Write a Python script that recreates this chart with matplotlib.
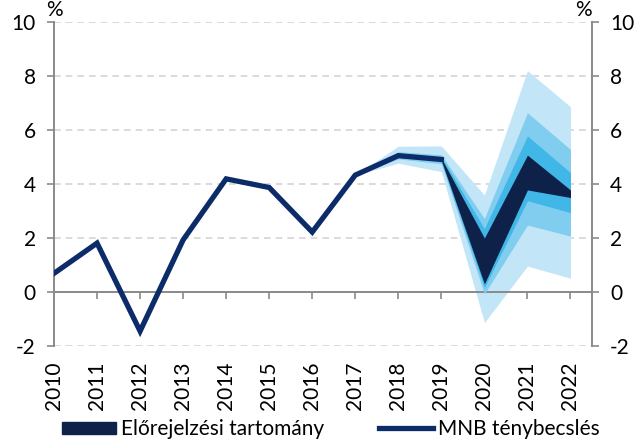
import numpy as np
import matplotlib.pyplot as plt
from matplotlib.patches import Patch
from matplotlib.lines import Line2D

plt.rcParams['font.family'] = ['Lato', 'DejaVu Sans']
plt.rcParams['axes.unicode_minus'] = False

# --- data ---
years = ['2010', '2011', '2012', '2013', '2014', '2015', '2016',
         '2017', '2018', '2019', '2020', '2021', '2022']
actual = [0.69, 1.81, -1.45, 1.93, 4.19, 3.87, 2.22, 4.33, 5.05, 4.91]

# fan bands, 2017-2022
fan_years = ['2017', '2018', '2019', '2020', '2021', '2022']
light_lo = [4.33, 4.77, 4.46, -1.13, 0.96, 0.51]
light_hi = [4.33, 5.40, 5.41, 3.59, 8.20, 6.86]
mid_lo = [4.33, 4.93, 4.75, -0.07, 2.48, 2.07]
mid_hi = [4.33, 5.20, 5.08, 2.72, 6.64, 5.28]
bright_lo = [4.33, 4.98, 4.82, 0.17, 3.38, 2.94]
bright_hi = [4.33, 5.14, 5.00, 2.35, 5.78, 4.42]
dark_lo = [4.33, 5.02, 4.87, 0.30, 3.78, 3.50]
dark_hi = [4.33, 5.10, 4.95, 2.00, 5.07, 3.78]

yticks = [-2, 0, 2, 4, 6, 8, 10]

# colours
c_light = '#c2e6f7'
c_mid = '#80cdef'
c_bright = '#40b7e7'
c_dark = '#0e2149'
c_line = '#0c2b69'
c_axis = '#8a8a8a'
c_grid = '#d4d4d4'

fs = 15

x_all = np.arange(len(years))
x_act = x_all[:len(actual)]
x_fan = np.array([years.index(y) for y in fan_years])

fig = plt.figure(figsize=(6.41, 4.41), dpi=100)
ax = fig.add_axes([54 / 641, 95 / 441, 538 / 641, 324 / 441])

ax.fill_between(x_fan, light_lo, light_hi, color=c_light, lw=0, zorder=2)
ax.fill_between(x_fan, mid_lo, mid_hi, color=c_mid, lw=0, zorder=3)
ax.fill_between(x_fan, bright_lo, bright_hi, color=c_bright, lw=0, zorder=4)
ax.fill_between(x_fan, dark_lo, dark_hi, color=c_dark, lw=0, zorder=5)
ax.plot(x_act, actual, color=c_line, lw=3.8, solid_joinstyle='miter', zorder=6)

ax.set_xlim(0, len(years) - 0.5)
ax.set_ylim(-2, 10)

# y axis both sides
ax.set_yticks(yticks)
ax.yaxis.set_ticks_position('both')
ax.tick_params(axis='y', which='both', direction='out', length=5, width=1.2,
               color=c_axis, labelsize=fs, pad=8, labelright=True)
ax.yaxis.grid(True, color=c_grid, ls=(0, (4, 3)), lw=1.2)
ax.set_axisbelow(True)

# x axis line at zero
ax.spines['bottom'].set_position(('data', 0))
ax.spines['top'].set_visible(False)
for s in ['left', 'right', 'bottom']:
    ax.spines[s].set_color(c_axis)
    ax.spines[s].set_linewidth(1.4)
ax.set_xticks(x_all[1:])
ax.tick_params(axis='x', direction='out', length=5, width=1.2, color=c_axis,
               labelbottom=False)

# year labels at the bottom
sec = ax.secondary_xaxis('bottom')
sec.set_xticks(x_all, labels=years, rotation=90)
sec.tick_params(length=0, labelsize=fs, pad=11)
sec.spines['bottom'].set_visible(False)

ax.text(0, 1.005, '%', transform=ax.transAxes, ha='center', va='bottom', fontsize=fs)
ax.text(1.0, 1.005, '%', transform=ax.transAxes, ha='right', va='bottom', fontsize=fs)

handles = [Patch(color=c_dark, label='Előrejelzési tartomány'),
           Line2D([0], [0], color=c_line, lw=3.8, label='MNB ténybecslés')]
fig.legend(handles=handles, loc='center', bbox_to_anchor=(331 / 641, 12 / 441),
           ncol=2, frameon=False, fontsize=fs, handlelength=2.6, handleheight=0.5,
           handletextpad=0.25, columnspacing=2.6, borderpad=0)

fig.savefig('out.png', dpi=100)
